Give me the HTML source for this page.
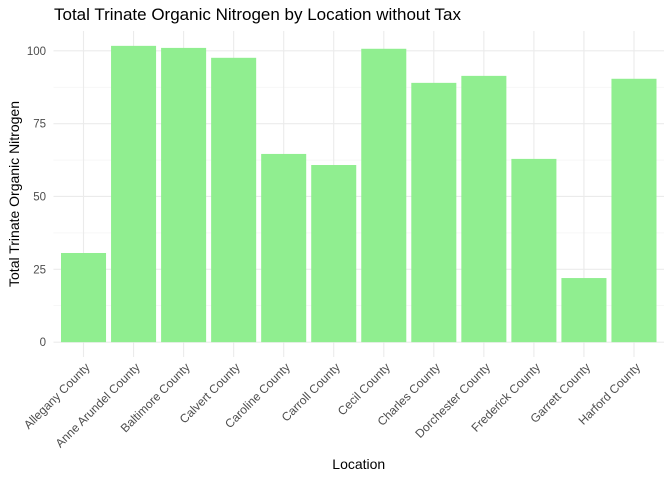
<!DOCTYPE html>
<html><head><meta charset="utf-8"><style>
body{margin:0;background:#fff;font-family:"Liberation Sans",sans-serif}
</style></head><body>
<svg id="c" width="672" height="480" xmlns="http://www.w3.org/2000/svg"></svg>
<script>
const categories=["Allegany County","Anne Arundel County","Baltimore County","Calvert County","Caroline County","Carroll County","Cecil County","Charles County","Dorchester County","Frederick County","Garrett County","Harford County"];
const values=[30.6,101.7,101,97.6,64.6,60.8,100.7,89,91.4,62.9,22,90.4];
const yTicks=[0,25,50,75,100];
const yTickLabels=["0","25","50","75","100"];
const NS="http://www.w3.org/2000/svg";
const svg=document.getElementById('c');
const L=53.5,R=664,T=31,B=357;
const yMin=-5.1,yMax=106.8;
function y(v){return B-(v-yMin)/(yMax-yMin)*(B-T);}
const step=(R-L)/(categories.length+0.2);
function x(i){return L+step*(0.6+i);}
function mk(t,a,p){const e=document.createElementNS(NS,t);for(const k in a)e.setAttribute(k,a[k]);(p||svg).appendChild(e);return e;}
const grid=mk('g',{});


for(let i=0;i<yTicks.length-1;i++){const m=(yTicks[i]+yTicks[i+1])/2;mk('line',{x1:L,x2:R,y1:y(m),y2:y(m),stroke:'#f2f2f2','stroke-width':0.6},grid);}
yTicks.forEach(t=>mk('line',{x1:L,x2:R,y1:y(t),y2:y(t),stroke:'#ebebeb','stroke-width':1.1},grid));
categories.forEach((c,i)=>mk('line',{x1:x(i),x2:x(i),y1:T,y2:B,stroke:'#ebebeb','stroke-width':1.1},grid));
const bars=mk('g',{});


values.forEach((v,i)=>{const w=step*0.9;const r=mk('rect',{x:x(i)-w/2,y:y(v),width:w,height:y(0)-y(v),fill:'#90ee90'},bars);

});
yTicks.forEach((t,i)=>{const e=mk('text',{x:46,y:y(t)+4,'text-anchor':'end','font-size':11.5,fill:'#4d4d4d'});e.textContent=yTickLabels[i];

});
categories.forEach((c,i)=>{const e=mk('text',{x:0,y:0,'text-anchor':'end','font-size':12,fill:'#4d4d4d',transform:`translate(${x(i)+7},${B+11}) rotate(-45)`});e.textContent=c;

});
let e=mk('text',{x:54,y:20,'font-size':17,fill:'#000'});e.textContent="Total Trinate Organic Nitrogen by Location without Tax";


e=mk('text',{x:(L+R)/2,y:469,'text-anchor':'middle','font-size':14,fill:'#000'});e.textContent="Location";


e=mk('text',{x:0,y:0,'text-anchor':'middle','font-size':14,fill:'#000',transform:`translate(19,${(T+B)/2}) rotate(-90)`});e.textContent="Total Trinate Organic Nitrogen";


</script>
</body></html>
